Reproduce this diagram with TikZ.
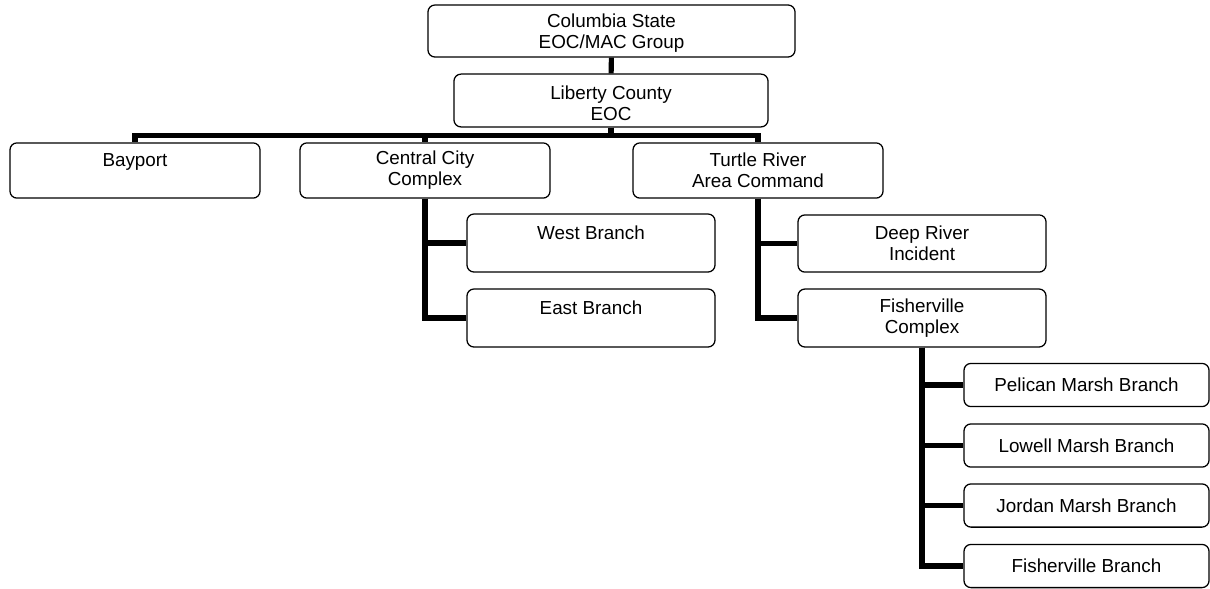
\documentclass[tikz,border=0pt]{standalone}
\usepackage{fontspec}
\setmainfont{Liberation Sans}
\usetikzlibrary{positioning, calc}
\tikzset{
  orgbox/.style={draw, line width=0.9pt, rounded corners=5pt, fill=white, align=center,
    font=\fontsize{13.4}{15}\selectfont, minimum width=6.25cm, minimum height=1.38cm, inner sep=2pt},
  subbox/.style={orgbox, minimum width=6.125cm, minimum height=1.08cm},
  linkline/.style={line width=3.6pt},
}

\begin{document}
\begin{tikzpicture}[x=0.025cm, y=-0.025cm]
        \useasboundingbox (0,0) rectangle (1210,588);
        \node[orgbox, minimum width=9.175cm, minimum height=1.3cm] (state) at (611.5,31) {\rule{0pt}{13pt}Columbia State\\EOC/MAC Group};
        \node[orgbox, minimum width=7.85cm, minimum height=1.32cm] (county) at (611,100.5) {\rule{0pt}{13pt}Liberty County\\EOC};
        \node[orgbox] (bayport) at (135,170.5) {Bayport\\\mbox{}};
        \node[orgbox] (central) at (425,170.5) {Central City\\Complex};
        \node[orgbox] (turtle) at (758,170.5) {Turtle River\\Area Command};
        \node[orgbox, minimum width=6.2cm, minimum height=1.45cm] (west) at (591,243) {West Branch\\\mbox{}};
        \node[orgbox, minimum width=6.2cm, minimum height=1.45cm] (east) at (591,318) {East Branch\\\mbox{}};
        \node[orgbox, minimum width=6.2cm, minimum height=1.43cm] (deep) at (922,243.5) {Deep River\\Incident};
        \node[orgbox, minimum width=6.2cm, minimum height=1.45cm] (fishcx) at (922,318) {Fisherville\\Complex};
        \foreach \n/\y/\t in {pelican/385/Pelican Marsh Branch, lowell/445.5/Lowell Marsh Branch,
            jordan/505.5/Jordan Marsh Branch, fishbr/566/Fisherville Branch}{
          \node[subbox] (\n) at (1086.5,\y) {\t};
          \draw[linkline] (fishcx.south) |- (\n.west);}
        \draw[linkline] (state) -- (county);
        \foreach \n in {bayport, central, turtle}{
          \draw[linkline] (county.south) -- ++(0,8) -| (\n.north);}
        \foreach \n in {west, east}{
          \draw[linkline] (central.south) |- (\n.west);}
        \foreach \n in {deep, fishcx}{
          \draw[linkline] (turtle.south) |- (\n.west);}
      \end{tikzpicture}
\end{document}
